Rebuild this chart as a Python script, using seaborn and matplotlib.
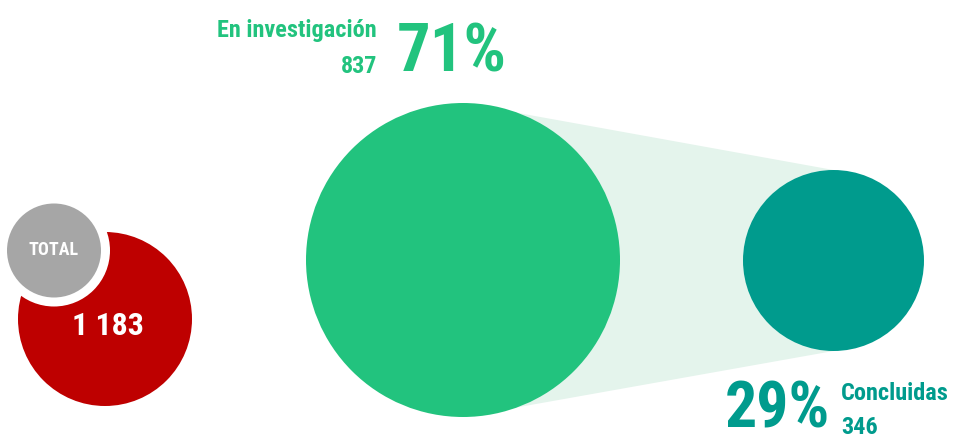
import numpy as np
import pandas as pd
import seaborn as sns
import matplotlib
matplotlib.use("Agg")
import matplotlib.pyplot as plt
from matplotlib.patches import Circle, Polygon
from matplotlib import font_manager

# ---- data ----
categories = ["En investigación", "Concluidas"]
values = [837, 346]
total_label = "TOTAL"
total_value = sum(values)

sns.set_theme(style="white")
avail = {f.name for f in font_manager.fontManager.ttflist}
family = None
for cand in ["Roboto Condensed", "Liberation Sans Narrow", "DejaVu Sans Condensed", "Roboto"]:
    if cand in avail:
        family = cand
        break
plt.rcParams["font.family"] = [family, "DejaVu Sans"]

RED = "#BE0000"
GRAY = "#A6A6A6"
GREEN = "#22C37E"
TEAL = "#009B8D"
LIGHT = "#E4F4EC"

fig = plt.figure(figsize=(9.59, 4.41), dpi=100)
ax = fig.add_axes([0, 0, 1, 1])
ax.set_xlim(0, 959)
ax.set_ylim(441, 0)
ax.set_aspect("equal")
ax.axis("off")

# layout
big = dict(x=463, y=260, r=157)
small = dict(x=833.5, y=260.5, r=90.5)

df = pd.DataFrame({"cat": categories, "val": values})
df["pct"] = (df["val"] / total_value * 100).round().astype(int)

# connector
ax.add_patch(Polygon([(big["x"], big["y"] - big["r"]), (small["x"], small["y"] - small["r"]),
                      (small["x"], small["y"] + small["r"]), (big["x"], big["y"] + big["r"])],
                     closed=True, facecolor=LIGHT, edgecolor="none", zorder=1))
ax.add_patch(Circle((big["x"], big["y"]), big["r"], facecolor=GREEN, edgecolor="none", zorder=2))
ax.add_patch(Circle((small["x"], small["y"]), small["r"], facecolor=TEAL, edgecolor="none", zorder=2))

# total circles
ax.add_patch(Circle((105, 319), 87, facecolor=RED, edgecolor="none", zorder=2))
ax.add_patch(Circle((54, 250.5), 56, facecolor="white", edgecolor="none", zorder=3))
ax.add_patch(Circle((54, 250.5), 47, facecolor=GRAY, edgecolor="none", zorder=4))

fmt = lambda v: f"{v:,}".replace(",", " ")
ax.text(54, 250, total_label, color="white", fontsize=13, fontweight="bold",
        ha="center", va="center", zorder=5)
ax.text(108, 326, fmt(total_value), color="white", fontsize=23, fontweight="bold",
        ha="center", va="center", zorder=5)

# labels
r0 = df.iloc[0]
r1 = df.iloc[1]
LAB = 17.5
PCT = 48
ax.text(377, 37, r0["cat"], color=GREEN, fontsize=LAB, fontweight="bold", ha="right", va="baseline")
ax.text(377, 73, fmt(r0["val"]), color=GREEN, fontsize=LAB, fontweight="bold", ha="right", va="baseline")
ax.text(397, 72, f"{r0['pct']}%", color=GREEN, fontsize=PCT, fontweight="bold", ha="left", va="baseline")

ax.text(725, 440, f"{r1['pct']}%", color=TEAL, fontsize=46, fontweight="bold", ha="left", va="bottom")
ax.text(841, 400, r1["cat"], color=TEAL, fontsize=LAB, fontweight="bold", ha="left", va="baseline")
ax.text(841, 434, fmt(r1["val"]), color=TEAL, fontsize=LAB, fontweight="bold", ha="left", va="baseline")

fig.savefig("out.png", dpi=100)
